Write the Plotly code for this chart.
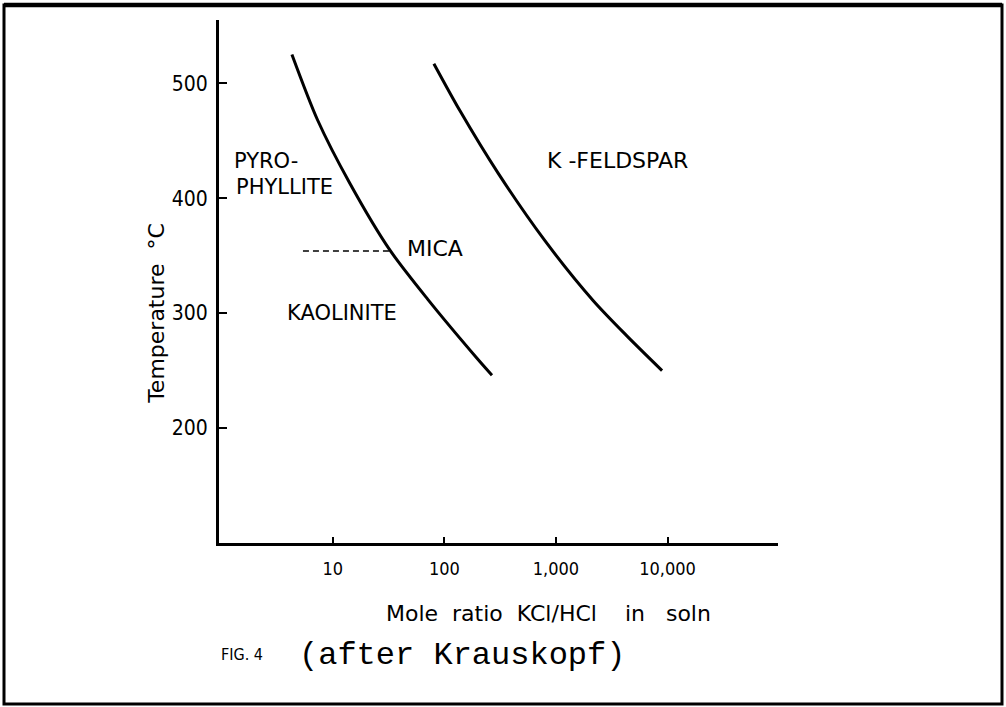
import math
import plotly.graph_objects as go

# ---- data ----
# Boundary Pyrophyllite/Kaolinite -> Mica
mica_ratio = [4.3, 7.3, 14.2, 32.4, 71, 195, 267]
mica_temp = [525, 468, 413, 355, 312, 261, 246]
# Boundary Mica -> K-feldspar
kspar_ratio = [80.5, 138, 302, 796, 2150, 4340, 8930]
kspar_temp = [517, 476, 422, 363, 311, 280, 250]
# Pyrophyllite / Kaolinite dashed boundary
dash_ratio = [5.4, 32.4]
dash_temp = [354, 354]

x_tickvals = [10, 100, 1000, 10000]
x_ticktext = ["10", "100", "1,000", "10,000"]
y_tickvals = [200, 300, 400, 500]

labels_text = ["PYRO-", "PHYLLITE", "MICA", "KAOLINITE", "K -FELDSPAR"]
labels_ratio = [1.24, 1.3, 44.2, 3.72, 790]
labels_temp = [432, 410, 356, 300, 433]
labels_size = [21, 21, 22, 21, 22]

fig = go.Figure()
fig.add_trace(go.Scatter(x=mica_ratio, y=mica_temp, mode="lines",
                         line=dict(color="black", width=3, shape="spline", smoothing=0.8),
                         showlegend=False, hoverinfo="skip"))
fig.add_trace(go.Scatter(x=kspar_ratio, y=kspar_temp, mode="lines",
                         line=dict(color="black", width=3, shape="spline", smoothing=0.8),
                         showlegend=False, hoverinfo="skip"))
fig.add_trace(go.Scatter(x=dash_ratio, y=dash_temp, mode="lines",
                         line=dict(color="black", width=1.5, dash="6px,4px"),
                         showlegend=False, hoverinfo="skip"))

annotations = []
for t, x, y, s in zip(labels_text, labels_ratio, labels_temp, labels_size):
    annotations.append(dict(x=math.log10(x), y=y, xref="x", yref="y", text=t, showarrow=False,
                            xanchor="left", yanchor="middle",
                            font=dict(family="DejaVu Sans, sans-serif", size=s, color="black")))

# axis titles / caption
annotations.append(dict(x=-0.111, y=0.44, xref="paper", yref="paper",
                        text="Temperature  °C", textangle=-90, showarrow=False,
                        font=dict(family="DejaVu Sans, sans-serif", size=22, color="black"),
                        xanchor="center", yanchor="middle"))
annotations.append(dict(x=0.295, y=-0.135, xref="paper", yref="paper",
                        text="Mole  ratio  KCl/HCl    in   soln", showarrow=False,
                        font=dict(family="DejaVu Sans, sans-serif", size=22, color="black"),
                        xanchor="left", yanchor="middle"))
annotations.append(dict(x=0.0, y=-0.213, xref="paper", yref="paper",
                        text="FIG. 4", showarrow=False,
                        font=dict(family="DejaVu Sans Condensed, DejaVu Sans, sans-serif", size=16, color="black"),
                        xanchor="left", yanchor="middle"))
annotations.append(dict(x=0.14, y=-0.215, xref="paper", yref="paper",
                        text="(after Krauskopf)", showarrow=False,
                        font=dict(family="Liberation Mono, Courier New, monospace", size=32, color="black"),
                        xanchor="left", yanchor="middle"))

# plot area: x 219..778 px, y 20..543 px in a 1006x707 page
L, R, T, B = 219, 778, 20, 543
W, H = 1006, 707
pw, ph = R - L, B - T

def px(x):
    return (x - L) / pw

def py(y):
    return (B - y) / ph

shapes = [dict(type="rect", xref="paper", yref="paper",
               x0=px(4), x1=px(1002), y0=py(704), y1=py(5),
               line=dict(color="black", width=3), fillcolor="rgba(0,0,0,0)", layer="above"),
          dict(type="line", xref="paper", yref="paper",
               x0=px(4), x1=px(1002), y0=py(5), y1=py(5),
               line=dict(color="black", width=4.5), layer="above")]

fig.update_layout(
    width=W, height=H,
    margin=dict(l=L, r=W - R, t=T, b=H - B, pad=0),
    paper_bgcolor="white", plot_bgcolor="white",
    showlegend=False,
    annotations=annotations,
    shapes=shapes,
    xaxis=dict(type="log", range=[-0.02, 4.99], tickvals=x_tickvals, ticktext=x_ticktext,
               showgrid=False, zeroline=False, showline=True, linecolor="black", linewidth=2.5,
               ticks="inside", ticklen=6, tickwidth=1.5, tickcolor="black",
               ticklabelstandoff=8,
               tickfont=dict(family="DejaVu Sans Condensed, DejaVu Sans, sans-serif", size=18, color="black")),
    yaxis=dict(range=[100, 555], tickvals=y_tickvals,
               showgrid=False, zeroline=False, showline=True, linecolor="black", linewidth=3,
               ticks="inside", ticklen=8, tickwidth=1.5, tickcolor="black",
               ticklabelstandoff=4,
               tickfont=dict(family="DejaVu Sans Condensed, DejaVu Sans, sans-serif", size=21, color="black")),
)

fig.write_html("out.html", config={"displayModeBar": False},
               post_script="document.body.style.margin='0';")
